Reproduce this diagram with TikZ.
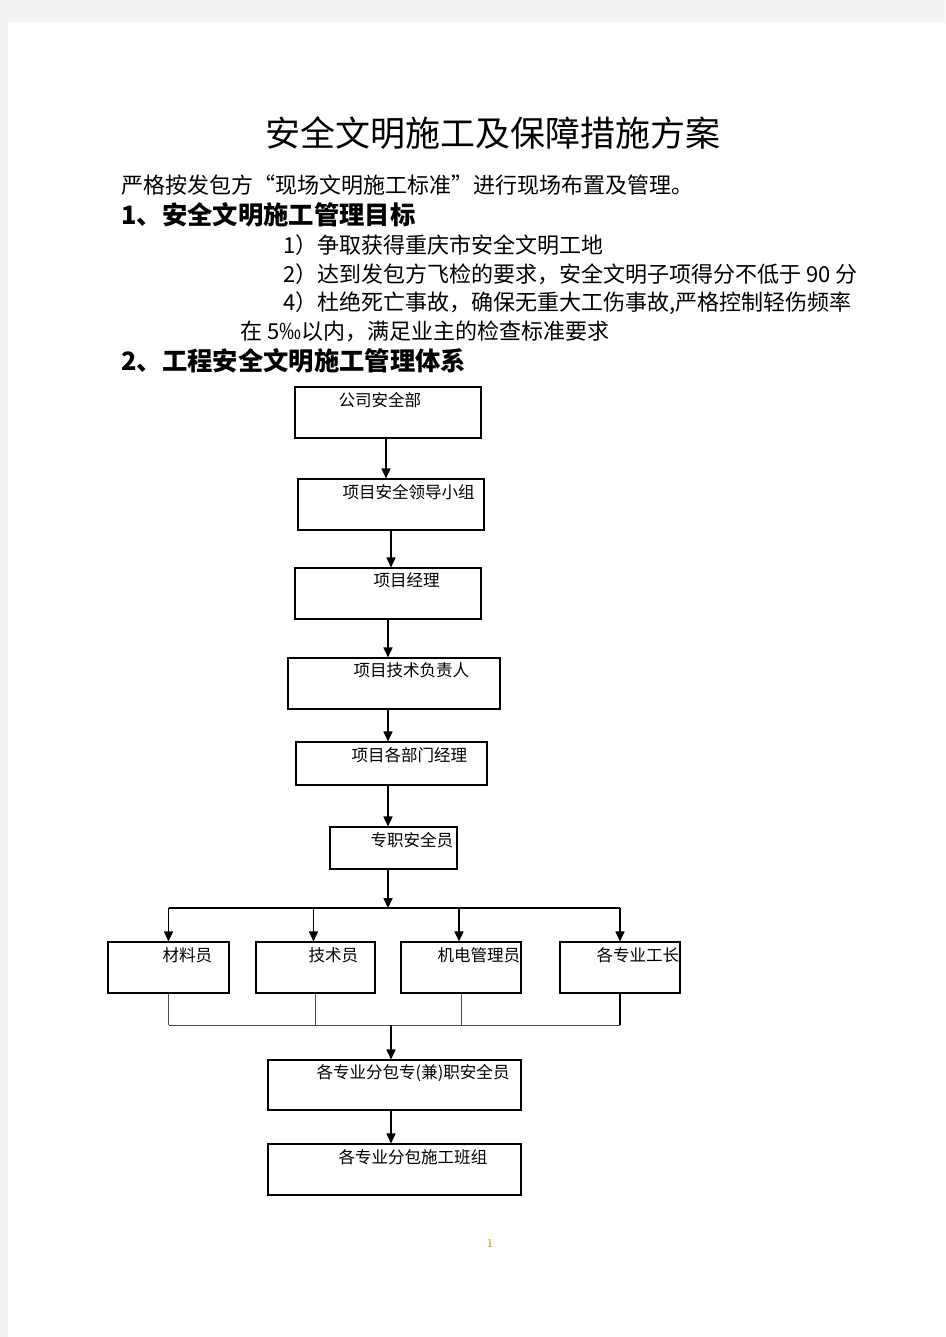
\documentclass[tikz,border=0pt]{standalone}
\usepackage{fontspec}
\newfontfamily\cjk{Noto Sans CJK SC}
\usetikzlibrary{arrows.meta,fit}

\definecolor{pagegray}{RGB}{243,243,243}
\definecolor{pagenum}{RGB}{200,120,0}

\tikzset{every picture/.style={line width=0.75pt}}
\tikzset{
  box/.style={draw, rectangle, inner sep=0pt, line width=0.85pt},
  lbl/.style={anchor=west, inner sep=0pt, font=\cjk\fontsize{12.4}{14}\selectfont},
  txt/.style={anchor=west, inner sep=0pt, font=\cjk\fontsize{16.5}{19}\selectfont},
  head/.style={anchor=west, inner sep=0pt, font=\cjk\bfseries\fontsize{19}{22}\selectfont},
  arr/.style={line width=1.1pt, -{Triangle[length=7.5pt,width=6.8pt]}},
  joinline/.style={line width=0.6pt, draw=black!70},
}

\begin{document}
\begin{tikzpicture}[x=0.75pt,y=0.75pt,yscale=-1,xscale=1]
    \useasboundingbox (0,0) rectangle (945,1337);
    %Page background
    \fill [pagegray] (0,0) rectangle (945,1337);
    \fill [white] (8,22) rectangle (945,1337);

    % Text Node
    \node [anchor=west, inner sep=0pt, font=\cjk\fontsize{26.25}{30}\selectfont] (title) at (265,133) {安全文明施工及保障措施方案};
    % Text Node
    \node [txt] (intro) at (121,185) {严格按发包方“现场文明施工标准”进行现场布置及管理。};
    % Text Node
    \node [head] (sec1) at (121,215) {1、安全文明施工管理目标};
    % Text Node
    \node [txt] (goal1) at (283,245) {1）争取获得重庆市安全文明工地};
    % Text Node
    \node [txt] (goal2) at (283,274) {2）达到发包方飞检的要求，安全文明子项得分不低于 90 分};
    % Text Node
    \node [txt] (goal4) at (283,303) {4）杜绝死亡事故，确保无重大工伤事故,严格控制轻伤频率};
    % Text Node
    \node [txt] (goal4b) at (240,331) {在 5‰以内，满足业主的检查标准要求};
    % Text Node
    \node [head] (sec2) at (121,361) {2、工程安全文明施工管理体系};

    %Shape: Rectangle
    \node [box, fit={(295,387) (481,438)}] (b1) {};
    \node [lbl] (t1) at (338,400) {公司安全部};
    %Shape: Rectangle
    \node [box, fit={(298,479) (484,530)}] (b2) {};
    \node [lbl] (t2) at (342,492) {项目安全领导小组};
    %Shape: Rectangle
    \node [box, fit={(295,568) (481,619)}] (b3) {};
    \node [lbl] (t3) at (373,580) {项目经理};
    %Shape: Rectangle
    \node [box, fit={(288,658) (500,709)}] (b4) {};
    \node [lbl] (t4) at (353,670) {项目技术负责人};
    %Shape: Rectangle
    \node [box, fit={(296,742) (487,785)}] (b5) {};
    \node [lbl] (t5) at (351,755) {项目各部门经理};
    %Shape: Rectangle
    \node [box, fit={(330,827) (457,869)}] (b6) {};
    \node [lbl] (t6) at (370,840) {专职安全员};
    %Shape: Rectangle
    \node [box, fit={(108,942) (229,993)}] (b7) {};
    \node [lbl] (t7) at (162,955) {材料员};
    %Shape: Rectangle
    \node [box, fit={(256,942) (375,993)}] (b8) {};
    \node [lbl] (t8) at (308,955) {技术员};
    %Shape: Rectangle
    \node [box, fit={(401,942) (521,993)}] (b9) {};
    \node [lbl] (t9) at (437,955) {机电管理员};
    %Shape: Rectangle
    \node [box, fit={(560,942) (680,993)}] (b10) {};
    \node [lbl] (t10) at (596,955) {各专业工长};
    %Shape: Rectangle
    \node [box, fit={(268,1060) (521,1110)}] (b11) {};
    \node [lbl] (t11) at (316,1073) {各专业分包专(兼)职安全员};
    %Shape: Rectangle
    \node [box, fit={(268,1144) (521,1195)}] (b12) {};
    \node [lbl] (t12) at (338,1157) {各专业分包施工班组};

    %Straight Lines
    \draw [arr] (b1.south) ++(-2,0) coordinate (a1) -- (a1 |- b2.north);
    \draw [arr] (b2.south) -- (b2.south |- b3.north);
    \draw [arr] (b3.south) -- (b3.south |- b4.north);
    \draw [arr] (b4.south) ++(-6,0) coordinate (a4) -- (a4 |- b5.north);
    \draw [arr] (b5.south) ++(-3.5,0) coordinate (a5) -- (a5 |- b6.north);

    %Branch to the four posts
    \coordinate (split) at (388,908);
    \draw [arr] (b6.south -| split) -- (split);
    \draw [line width=1.1pt] (b7.north |- split) -- (b10.north |- split);
    \draw [arr] (b7.north |- split) -- (b7.north);
    \draw [arr] (b8.north |- split) ++(-2,0) coordinate (a8) -- (a8 |- b8.north);
    \draw [arr] (b9.north |- split) ++(-2,0) coordinate (a9) -- (a9 |- b9.north);
    \draw [arr] (b10.north |- split) -- (b10.north);

    %Join of the four posts
    \coordinate (merge) at (391,1025);
    \draw [joinline] (b7.south) -- (b7.south |- merge);
    \draw [joinline] (b8.south) -- (b8.south |- merge);
    \draw [joinline] (b9.south) -- (b9.south |- merge);
    \draw [line width=1.1pt] (b10.south) -- (b10.south |- merge);
    \draw [joinline] (b7.south |- merge) -- (b10.south |- merge);
    \draw [arr] (merge) -- (merge |- b11.north);
    \draw [arr] (b11.south -| merge) -- (merge |- b12.north);

    % Text Node
    \node [anchor=center, inner sep=0pt, text=pagenum, font=\fontsize{9}{10}\selectfont] (pnum) at (490,1243) {1};
\end{tikzpicture}
\end{document}
